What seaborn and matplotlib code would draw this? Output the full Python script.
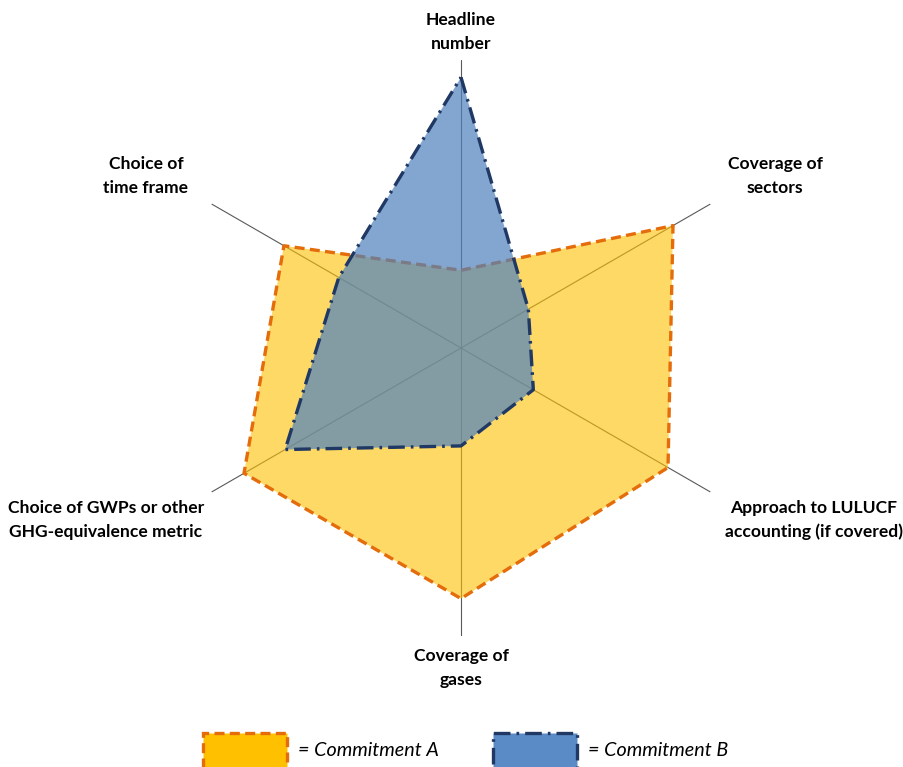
import numpy as np
import matplotlib
matplotlib.use("Agg")
import matplotlib.pyplot as plt
from matplotlib.patches import Rectangle
import seaborn as sns

# Assessment dimensions, clockwise from the top
categories = [
    "Headline\nnumber",
    "Coverage of\nsectors",
    "Approach to LULUCF\naccounting (if covered)",
    "Coverage of\ngases",
    "Choice of GWPs or other\nGHG-equivalence metric",
    "Choice of\ntime frame",
]
commitment_a = [2.7, 8.5, 8.3, 8.7, 8.7, 7.1]
commitment_b = [9.4, 2.7, 2.9, 3.4, 7.05, 4.9]
series_names = ["= Commitment A", "= Commitment B"]
r_max = 10

sns.set_theme(style="white")
plt.rcParams["font.family"] = ["Lato", "DejaVu Sans"]

W, H = 904, 767
fig = plt.figure(figsize=(W / 100, H / 100), dpi=100)

# polar axes: centre at (461, 348) px, spoke length 288 px
cx, cy, rad = 461, 348, 288
ax = fig.add_axes([(cx - rad) / W, (H - cy - rad) / H, 2 * rad / W, 2 * rad / H],
                  projection="polar")
ax.set_theta_zero_location("N")
ax.set_theta_direction(-1)
ax.set_ylim(0, r_max)
ax.grid(False)
ax.spines["polar"].set_visible(False)
ax.set_xticks([])
ax.set_yticks([])
ax.patch.set_alpha(0)

n = len(categories)
theta = np.linspace(0, 2 * np.pi, n, endpoint=False)

# spokes
for t in theta:
    ax.plot([t, t], [0, r_max], color="#595959", lw=0.8, zorder=1)

def closed(vals):
    return np.append(theta, theta[0]), np.append(vals, vals[0])

ta, ra = closed(commitment_a)
tb, rb = closed(commitment_b)

dash_a = (0, (3.0, 1.6))
dash_b = (0, (5.0, 1.8, 0.8, 1.8))

ax.fill(ta, ra, color="#FFC000", alpha=0.6, lw=0, zorder=2)
ax.plot(ta, ra, color="#E46C0A", lw=2.4, ls=dash_a, zorder=3)

ax.fill(tb, rb, color="#4F81BD", alpha=0.7, lw=0, zorder=4)
ax.plot(tb, rb, color="#1F3864", lw=2.4, ls=dash_b, zorder=5)

# category labels
label_pos = [(461, 32), (775, 176), (814, 520), (461, 668), (106, 520), (146, 176)]
for lab, (px, py) in zip(categories, label_pos):
    fig.text(px / W, 1 - py / H, lab, ha="center", va="center",
             fontsize=12.6, fontweight="bold", color="#000000", linespacing=1.55)

# legend
leg = [
    (203, "#FFC000", "#E46C0A", dash_a),
    (493, "#5B8BC6", "#1F3864", dash_b),
]
for (x0, fc, ec, ls), name in zip(leg, series_names):
    fig.patches.append(Rectangle((x0 / W, 1 - 770 / H), 84 / W, 37 / H,
                                 transform=fig.transFigure, facecolor=fc,
                                 edgecolor=ec, lw=2.4, ls=ls))
    fig.text((x0 + 95) / W, 1 - 751 / H, name, ha="left", va="center",
             fontsize=14.2, fontstyle="italic", color="#000000")

fig.savefig("out.png", dpi=100, facecolor="white")
